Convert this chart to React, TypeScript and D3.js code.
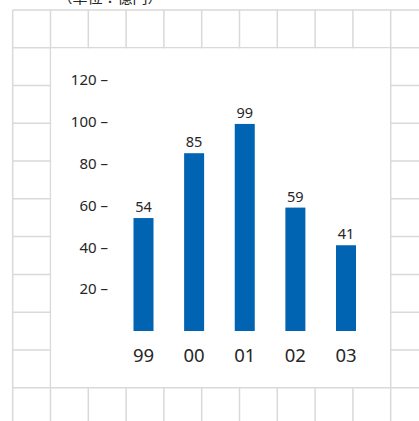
import React from "react";
import * as d3 from "d3";

// Fiscal years (two-digit) and amounts (億円)
const years = ["99", "00", "01", "02", "03"];
const amounts = [54, 85, 99, 59, 41];
const yTicks = [20, 40, 60, 80, 100, 120];
const unitLabel = "（単位：億円）";

const W = 419;
const H = 421;
const FONT = "'Noto Sans', 'Open Sans', sans-serif";
const INK = "#262626";

export default function App() {
  // background grid: 38px cells, panel cut out in the middle
  const gx = d3.range(0, 11).map((i) => 12.7 + i * 37.8);
  const gy = d3.range(0, 12).map((i) => 10 + i * 37.77);
  const panel = { x0: gx[1], x1: gx[10], y0: gy[1], y1: gy[10] };

  const y = d3.scaleLinear().domain([0, 120]).range([331, 80]);
  const x = d3.scalePoint<string>().domain(years).range([143.5, 346]);
  const barW = 20;

  return (
    <svg
      width={W}
      height={H}
      style={{ position: "fixed", left: 0, top: 0, background: "#fff" }}
    >
      <g stroke="#d9d9d9" strokeWidth={1.5}>
        {gx.map((v, i) => (
          <line key={"v" + i} x1={v} x2={v} y1={gy[0]} y2={H} />
        ))}
        {gy.map((v, i) => (
          <line key={"h" + i} x1={gx[0]} x2={W} y1={v} y2={v} />
        ))}
      </g>
      <rect
        x={panel.x0 + 0.75}
        y={panel.y0 + 0.75}
        width={panel.x1 - panel.x0 - 1.5}
        height={panel.y1 - panel.y0 - 1.5}
        fill="#fff"
      />

      <text
        x={110}
        y={3}
        textAnchor="middle"
        fontFamily="'Noto Sans CJK JP', sans-serif"
        fontSize={15}
        fill={INK}
      >
        {unitLabel}
      </text>

      <g fontFamily={FONT} fontSize={15} fill={INK}>
        {yTicks.map((t) => (
          <text key={t} x={108} y={y(t)} dy="0.35em" textAnchor="end">
            {t + " –"}
          </text>
        ))}
      </g>

      <g>
        {years.map((yr, i) => (
          <g key={yr}>
            <rect
              x={x(yr)! - barW / 2}
              y={y(amounts[i])}
              width={barW}
              height={y(0) - y(amounts[i])}
              fill="#0064b2"
            />
            <text
              x={x(yr)!}
              y={y(amounts[i]) - 6}
              textAnchor="middle"
              fontFamily={FONT}
              fontSize={14.5}
              fill={INK}
            >
              {amounts[i]}
            </text>
            <text
              x={x(yr)!}
              y={362}
              textAnchor="middle"
              fontFamily={FONT}
              fontSize={18.5}
              fill={INK}
            >
              {yr}
            </text>
          </g>
        ))}
      </g>
    </svg>
  );
}
